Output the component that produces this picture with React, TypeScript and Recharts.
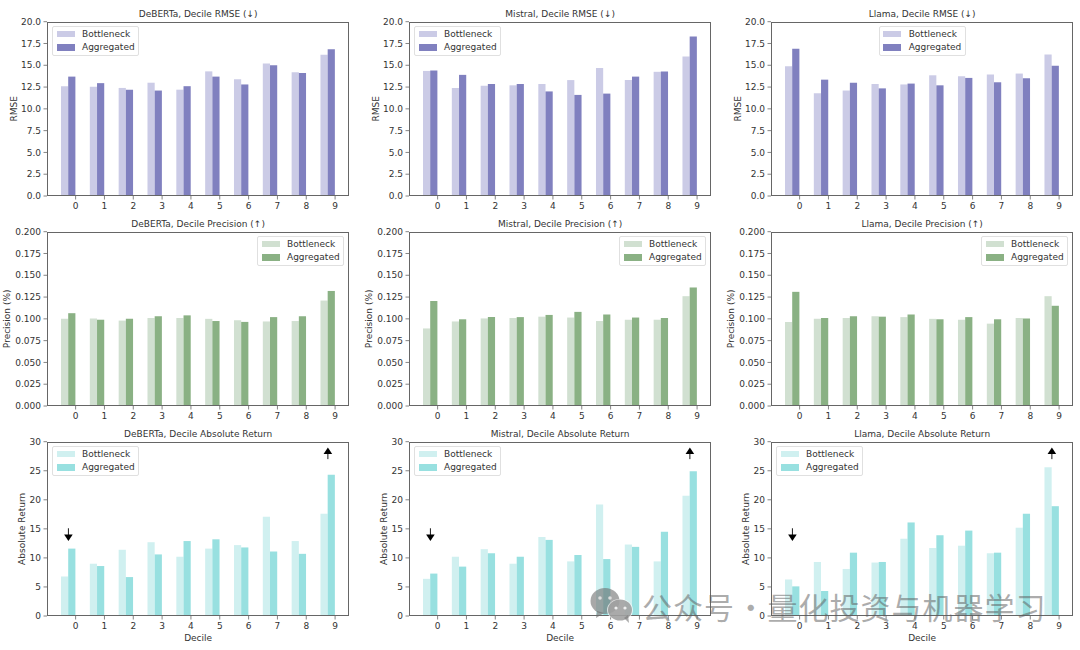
import React from 'react';
import { BarChart, Bar, XAxis, YAxis, Legend, ReferenceLine } from 'recharts';

const deciles = [0, 1, 2, 3, 4, 5, 6, 7, 8, 9];
const rmseTicks = [0, 2.5, 5, 7.5, 10, 12.5, 15, 17.5, 20];
const precisionTicks = [0, 0.025, 0.05, 0.075, 0.1, 0.125, 0.15, 0.175, 0.2];
const returnTicks = [0, 5, 10, 15, 20, 25, 30];

const debertaRmseB = [12.6, 12.55, 12.4, 13.0, 12.2, 14.3, 13.4, 15.2, 14.2, 16.2];
const debertaRmseA = [13.7, 12.95, 12.2, 12.1, 12.6, 13.7, 12.8, 15.0, 14.1, 16.85];
const mistralRmseB = [14.35, 12.4, 12.65, 12.7, 12.85, 13.3, 14.7, 13.3, 14.25, 16.0];
const mistralRmseA = [14.4, 13.9, 12.85, 12.85, 12.0, 11.6, 11.75, 13.7, 14.3, 18.3];
const llamaRmseB = [14.9, 11.8, 12.1, 12.85, 12.8, 13.85, 13.75, 13.95, 14.05, 16.25];
const llamaRmseA = [16.9, 13.35, 13.0, 12.35, 12.9, 12.7, 13.55, 13.05, 13.5, 14.95];

const debertaPrecB = [0.1, 0.1005, 0.098, 0.101, 0.101, 0.1, 0.0985, 0.097, 0.0975, 0.121];
const debertaPrecA = [0.1065, 0.099, 0.1, 0.103, 0.104, 0.0975, 0.0965, 0.102, 0.103, 0.132];
const mistralPrecB = [0.089, 0.097, 0.1005, 0.101, 0.1025, 0.1015, 0.0975, 0.099, 0.099, 0.126];
const mistralPrecA = [0.1205, 0.0995, 0.102, 0.102, 0.1045, 0.108, 0.105, 0.1015, 0.101, 0.136];
const llamaPrecB = [0.0965, 0.1, 0.101, 0.103, 0.102, 0.1, 0.099, 0.0945, 0.101, 0.126];
const llamaPrecA = [0.131, 0.101, 0.103, 0.1025, 0.105, 0.0995, 0.102, 0.0995, 0.1005, 0.115];

const debertaRetB = [6.8, 9.0, 11.4, 12.7, 10.2, 11.6, 12.2, 17.1, 12.9, 17.6];
const debertaRetA = [11.6, 8.6, 6.7, 10.6, 12.9, 13.2, 11.8, 11.1, 10.7, 24.3];
const mistralRetB = [6.4, 10.2, 11.5, 9.0, 13.6, 9.4, 19.2, 12.3, 9.4, 20.7];
const mistralRetA = [7.3, 8.5, 10.8, 10.2, 13.1, 10.5, 9.8, 11.9, 14.5, 24.9];
const llamaRetB = [6.3, 9.3, 8.1, 9.2, 13.3, 11.7, 12.1, 10.8, 15.2, 25.6];
const llamaRetA = [5.1, 4.3, 10.9, 9.3, 16.1, 13.9, 14.7, 10.9, 17.6, 18.9];

const FONT = '"DejaVu Sans", sans-serif';
const TEXT = '#333';
const EDGE = '#666';
const PLOT_W = 302.3;
const PLOT_H = 174.3;
const PLOT_L = 47;
const PLOT_T = 21.7;
const TICK_SHIFT = 7.2; // ticks sit on the right edge of the pair of bars

const indigo = ['#cbcbe6', '#8080bf'];
const green = ['#d1e0d1', '#8ab184'];
const cyan = ['#d0f0f0', '#98e0e0'];

const rows = [
  { metric: 'RMSE', suffix: 'Decile RMSE (↓)', ticks: rmseTicks, digits: 1, labelX: 13.7, colors: indigo },
  { metric: 'Precision (%)', suffix: 'Decile Precision (↑)', ticks: precisionTicks, digits: 3, labelX: 7.3, colors: green },
  { metric: 'Absolute Return', suffix: 'Decile Absolute Return', ticks: returnTicks, digits: 0, labelX: 22, colors: cyan },
];

const panels = [
  { model: 'DeBERTa', row: 0, col: 0, b: debertaRmseB, a: debertaRmseA, legend: 5 },
  { model: 'Mistral', row: 0, col: 1, b: mistralRmseB, a: mistralRmseA, legend: 5 },
  { model: 'Llama', row: 0, col: 2, b: llamaRmseB, a: llamaRmseA, legend: 107.7 },
  { model: 'DeBERTa', row: 1, col: 0, b: debertaPrecB, a: debertaPrecA, legend: 210 },
  { model: 'Mistral', row: 1, col: 1, b: mistralPrecB, a: mistralPrecA, legend: 210 },
  { model: 'Llama', row: 1, col: 2, b: llamaPrecB, a: llamaPrecA, legend: 210 },
  { model: 'DeBERTa', row: 2, col: 0, b: debertaRetB, a: debertaRetA, legend: 5 },
  { model: 'Mistral', row: 2, col: 1, b: mistralRetB, a: mistralRetA, legend: 5 },
  { model: 'Llama', row: 2, col: 2, b: llamaRetB, a: llamaRetA, legend: 5 },
];

const DecileTick = ({ x, y, payload }: any) => (
  <g>
    <line x1={x + TICK_SHIFT} x2={x + TICK_SHIFT} y1={y} y2={y + 3.5} stroke={EDGE} strokeWidth={0.8} />
    <text x={x + TICK_SHIFT} y={y + 13} textAnchor="middle" fontSize={9} fill={TEXT} fontFamily={FONT}>
      {payload.value}
    </text>
  </g>
);

const Arrow = ({ x1, y1, x2, y2 }: any) => {
  const dir = y2 > y1 ? 1 : -1;
  return (
    <g>
      <line x1={x1} x2={x2} y1={y1} y2={y2 - dir * 5} stroke="#000" strokeWidth={0.9} />
      <path d={`M${x2} ${y2} L${x2 - 4.3} ${y2 - dir * 6.5} L${x2 + 4.3} ${y2 - dir * 6.5} Z`} fill="#000" />
    </g>
  );
};

const LegendBox = ({ payload }: any) => (
  <div
    style={{
      width: 87,
      height: 30,
      boxSizing: 'border-box',
      background: 'rgba(255,255,255,0.8)',
      border: '1px solid #e0e0e0',
      borderRadius: 2,
      fontFamily: FONT,
      fontSize: 9,
      color: TEXT,
    }}
  >
    {(payload || []).map((item: any) => (
      <div key={item.value} style={{ display: 'flex', alignItems: 'center', height: 13.5, marginLeft: 3.5 }}>
        <span style={{ width: 18, height: 6.5, background: item.color, marginRight: 7.5 }} />
        {item.value}
      </div>
    ))}
  </div>
);

const Panel = ({ model, row, col, b, a, legend }: any) => {
  const cfg = rows[row];
  const data = deciles.map((decile, i) => ({ decile, Bottleneck: b[i], Aggregated: a[i] }));
  const isReturn = row === 2;
  return (
    <div style={{ position: 'absolute', left: col * 362, top: row * 210, width: 362, height: 230 }}>
      <BarChart
        width={362}
        height={230}
        data={data}
        barGap={0}
        barSize={7.2}
        margin={{ top: PLOT_T, right: 362 - PLOT_L - PLOT_W, bottom: 0, left: 0 }}
      >
        <XAxis
          dataKey="decile"
          type="category"
          interval={0}
          height={230 - PLOT_T - PLOT_H}
          padding={{ left: 7, right: 7 }}
          axisLine={false}
          tickLine={false}
          tickSize={0}
          tickMargin={0}
          tick={<DecileTick />}
          label={
            isReturn
              ? { value: 'Decile', position: 'insideTop', offset: 19, fontSize: 9, fill: TEXT, fontFamily: FONT }
              : undefined
          }
        />
        <YAxis
          type="number"
          width={PLOT_L}
          domain={[cfg.ticks[0], cfg.ticks[cfg.ticks.length - 1]]}
          ticks={cfg.ticks}
          interval={0}
          axisLine={false}
          tickSize={3.5}
          tickMargin={2.5}
          tickLine={{ stroke: EDGE, strokeWidth: 0.8 }}
          tick={{ fontSize: 9, fill: TEXT, fontFamily: FONT }}
          tickFormatter={(v: number) => v.toFixed(cfg.digits)}
          label={{
            value: cfg.metric,
            angle: -90,
            position: 'insideLeft',
            offset: cfg.labelX,
            fontSize: 9,
            fill: TEXT,
            fontFamily: FONT,
            style: { textAnchor: 'middle' },
          }}
        />
        <Bar dataKey="Bottleneck" fill={cfg.colors[0]} isAnimationActive={false} />
        <Bar dataKey="Aggregated" fill={cfg.colors[1]} isAnimationActive={false} />
        {isReturn && (
          <ReferenceLine
            segment={[{ x: deciles[0], y: 15.1 }, { x: deciles[0], y: 12.9 }]}
            shape={<Arrow />}
            ifOverflow="visible"
          />
        )}
        {isReturn && (
          <ReferenceLine
            segment={[{ x: deciles[9], y: 27.0 }, { x: deciles[9], y: 29.0 }]}
            shape={<Arrow />}
            ifOverflow="visible"
          />
        )}
        <Legend
          content={<LegendBox />}
          itemSorter={null}
          layout="horizontal"
          verticalAlign="middle"
          wrapperStyle={{ left: PLOT_L + legend, top: PLOT_T + 4.3, width: 87, height: 30, bottom: 'auto' }}
        />
      </BarChart>
      <div
        style={{
          position: 'absolute',
          left: PLOT_L,
          top: PLOT_T,
          width: PLOT_W,
          height: PLOT_H,
          boxSizing: 'border-box',
          border: `1px solid ${EDGE}`,
          pointerEvents: 'none',
        }}
      />
      <div
        style={{
          position: 'absolute',
          left: PLOT_L,
          top: 7.5,
          width: PLOT_W,
          textAlign: 'center',
          fontFamily: FONT,
          fontSize: 9,
          lineHeight: '12px',
          color: TEXT,
        }}
      >
        {`${model}, ${cfg.suffix}`}
      </div>
    </div>
  );
};

const Watermark = () => (
  <div style={{ position: 'absolute', left: 0, top: 0, width: 1080, height: 650, pointerEvents: 'none' }}>
    <svg width={1080} height={650} style={{ position: 'absolute', left: 0, top: 0 }}>
      <ellipse cx={605} cy={601} rx={14.5} ry={13} fill="rgba(110,110,110,0.6)" />
      <path d="M597 611 L596 618 L604 613 Z" fill="rgba(110,110,110,0.6)" />
      <ellipse cx={620} cy={610} rx={13} ry={11} fill="#fff" opacity={0.7} />
      <ellipse cx={620} cy={610} rx={12} ry={10.5} fill="rgba(125,125,125,0.65)" />
      <path d="M624 618 L629 623 L628 615 Z" fill="rgba(125,125,125,0.65)" />
      <circle cx={600} cy={598} r={1.8} fill="#ddd" />
      <circle cx={610} cy={598} r={1.8} fill="#ddd" />
      <circle cx={616} cy={608} r={1.6} fill="#eee" />
      <circle cx={625} cy={608} r={1.6} fill="#eee" />
    </svg>
    <div
      style={{
        position: 'absolute',
        left: 642,
        top: 585,
        fontFamily: '"Noto Sans CJK SC", sans-serif',
        fontSize: 30,
        lineHeight: '42px',
        letterSpacing: 1,
        wordSpacing: -7,
        whiteSpace: 'nowrap',
        color: 'rgba(90,90,90,0.5)',
      }}
    >
      公众号 · 量化投资与机器学习
    </div>
  </div>
);

export default function App() {
  return (
    <div style={{ position: 'absolute', left: 0, top: 0, width: 1080, height: 650, background: '#fff', overflow: 'hidden' }}>
      {panels.map((p) => (
        <Panel key={`${p.model}-${p.row}`} {...p} />
      ))}
      <Watermark />
    </div>
  );
}
